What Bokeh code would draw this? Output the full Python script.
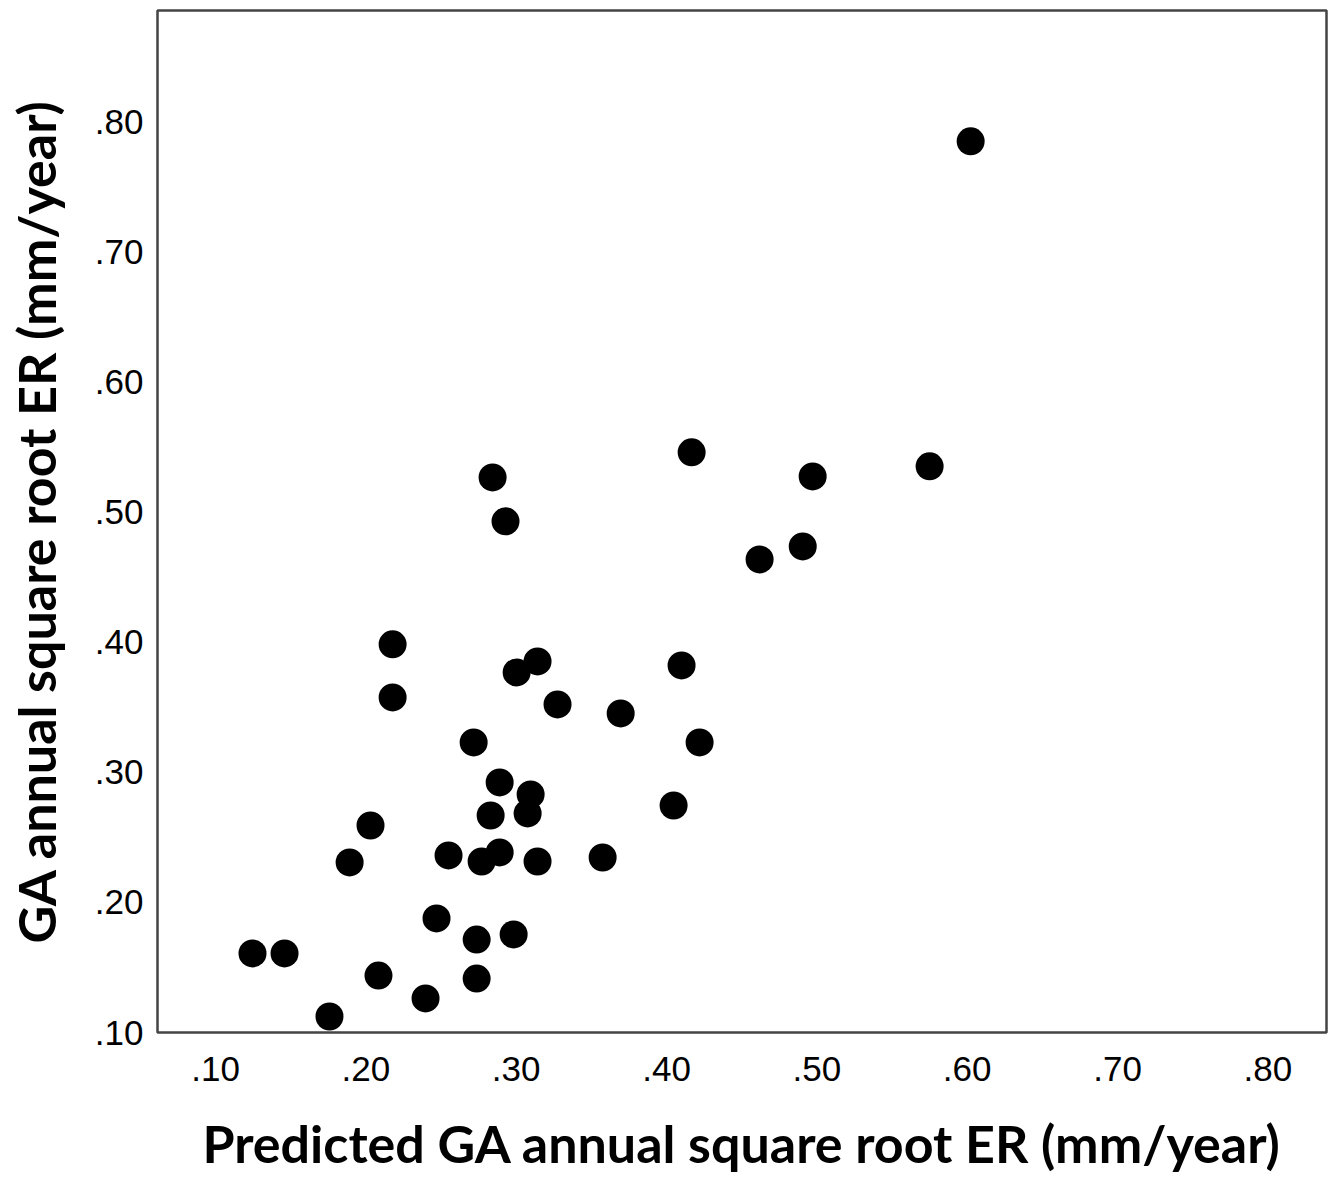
from bokeh.plotting import figure
from bokeh.models import FixedTicker, Range1d
from bokeh.embed import file_html
from bokeh.resources import INLINE

# Data
predicted = [0.6023, 0.4167, 0.4972, 0.5750, 0.4906, 0.4619, 0.2843, 0.2929,
             0.2178, 0.2178, 0.3003, 0.3142, 0.3275, 0.3695, 0.2717, 0.2890,
             0.3096, 0.2830, 0.3076, 0.2031, 0.1892, 0.2550, 0.2770, 0.2890,
             0.3142, 0.3575, 0.2470, 0.2737, 0.2983, 0.1246, 0.1459, 0.2084,
             0.2737, 0.2397, 0.1758, 0.4100, 0.4220, 0.4047]
observed = [0.7854, 0.5462, 0.5277, 0.5354, 0.4738, 0.4638, 0.5269, 0.4931,
            0.3985, 0.3577, 0.3769, 0.3854, 0.3523, 0.3454, 0.3231, 0.2923,
            0.2831, 0.2669, 0.2685, 0.2592, 0.2308, 0.2362, 0.2315, 0.2385,
            0.2315, 0.2346, 0.1877, 0.1715, 0.1754, 0.1608, 0.1608, 0.1438,
            0.1415, 0.1262, 0.1123, 0.3823, 0.3231, 0.2746]

tick_values = [0.1, 0.2, 0.3, 0.4, 0.5, 0.6, 0.7, 0.8]
tick_labels = [".10", ".20", ".30", ".40", ".50", ".60", ".70", ".80"]

x_title = "Predicted GA annual square root ER (mm/year)"
y_title = "GA annual square root ER (mm/year)"

p = figure(width=1330, height=1180, output_backend="svg", toolbar_location=None,
           x_range=Range1d(0.0614, 0.839), y_range=Range1d(0.10, 0.886),
           min_border_left=157, min_border_right=4, min_border_top=10,
           min_border_bottom=148)

p.background_fill_color = "white"
p.border_fill_color = "white"
p.outline_line_color = "#444444"
p.outline_line_width = 2.5
p.grid.visible = False

overrides = {v: l for v, l in zip(tick_values, tick_labels)}
for ax in (p.xaxis[0], p.yaxis[0]):
    ax.ticker = FixedTicker(ticks=tick_values)
    ax.major_label_overrides = overrides
    ax.axis_line_color = None
    ax.major_tick_line_color = None
    ax.minor_tick_line_color = None
    ax.major_tick_out = 0
    ax.major_tick_in = 0
    ax.major_label_text_font = "Liberation Sans"
    ax.major_label_text_font_size = "35px"
    ax.major_label_text_color = "black"
    ax.axis_label_text_font = "Lato"
    ax.axis_label_text_font_style = "bold"
    ax.axis_label_text_font_size = "52px"
    ax.axis_label_text_color = "black"

p.xaxis.axis_label = x_title
p.yaxis.axis_label = y_title
p.xaxis.major_label_standoff = 24
p.yaxis.major_label_standoff = 14
p.xaxis.axis_label_standoff = 28
p.yaxis.axis_label_standoff = 25

p.scatter(predicted, observed, size=28, fill_color="black", line_color=None)

open("out.html", "w").write(file_html(p, INLINE))
